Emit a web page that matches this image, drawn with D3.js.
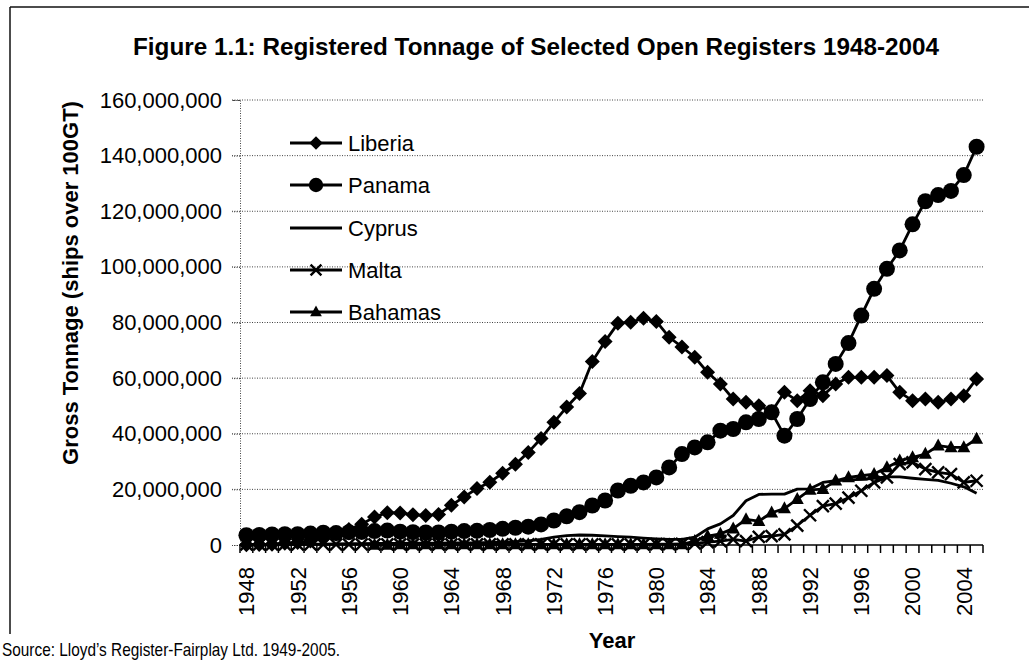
<!DOCTYPE html>
<html>
<head>
<meta charset="utf-8">
<script src="https://cdn.jsdelivr.net/npm/d3@7/dist/d3.min.js"></script>
<style>
  html, body { margin: 0; padding: 0; background: #fff; }
  svg { display: block; font-family: "Liberation Sans", Arial, sans-serif; }
</style>
</head>
<body>
<svg id="chart" width="1029" height="660"></svg>
<script>
// ---------- data (gross tonnage, millions GT) ----------
const years = [1948,1949,1950,1951,1952,1953,1954,1955,1956,1957,
               1958,1959,1960,1961,1962,1963,1964,1965,1966,1967,
               1968,1969,1970,1971,1972,1973,1974,1975,1976,1977,
               1978,1979,1980,1981,1982,1983,1984,1985,1986,1987,
               1988,1989,1990,1991,1992,1993,1994,1995,1996,1997,
               1998,1999,2000,2001,2002,2003,2004,2005];
const xTickLabels = ["1948","1952","1956","1960","1964","1968","1972","1976",
                     "1980","1984","1988","1992","1996","2000","2004"];
const yTicks = [0,20000000,40000000,60000000,80000000,100000000,120000000,140000000,160000000];

const liberia = [0.1,0.2,0.25,0.6,0.9,1.4,2.4,3.9,5.6,7.5,
                 10.1,11.6,11.5,10.9,10.6,11.0,14.3,17.3,20.3,22.6,
                 25.8,29.0,33.3,38.3,44.1,49.6,54.5,66.0,73.2,79.7,
                 80.1,81.5,80.4,74.7,71.2,67.5,62.1,57.9,52.5,51.3,
                 50.1,47.9,54.9,51.9,55.5,53.7,57.9,60.3,60.3,60.3,
                 60.9,54.9,51.9,52.5,51.3,52.5,53.7,59.7];
const panama  = [3.5,3.6,3.8,3.9,3.9,4.1,4.4,4.3,4.6,4.7,
                 5.0,5.2,4.8,4.6,4.5,4.5,4.8,5.0,5.1,5.4,
                 5.8,6.2,6.6,7.4,8.8,10.3,11.8,14.2,16.0,19.6,
                 21.3,22.5,24.3,27.9,32.7,35.1,36.9,41.1,41.7,44.1,
                 45.3,47.7,39.3,45.3,52.5,58.5,65.1,72.6,82.5,92.1,
                 99.3,105.9,115.3,123.6,125.8,127.3,133.0,143.2];
const cyprus  = [0.2,0.2,0.2,0.2,0.3,0.3,0.3,0.4,0.5,0.5,
                 0.6,0.6,0.6,0.7,0.7,0.7,0.8,0.8,0.8,0.9,
                 1.0,1.2,1.5,2.0,2.8,3.4,3.6,3.5,3.3,3.0,
                 2.8,2.5,2.2,2.0,2.0,2.8,5.8,7.6,10.6,15.9,
                 18.2,18.3,18.3,20.1,20.2,22.5,23.1,23.4,23.6,24.0,
                 24.5,24.5,24.0,23.6,23.2,22.2,20.9,18.6];
const malta   = [0.2,0.2,0.2,0.2,0.2,0.2,0.2,0.2,0.2,0.2,
                 0.2,0.2,0.2,0.2,0.2,0.2,0.2,0.2,0.2,0.2,
                 0.2,0.2,0.2,0.2,0.2,0.2,0.2,0.2,0.2,0.2,
                 0.2,0.2,0.3,0.3,0.4,0.6,1.0,1.4,2.0,1.4,
                 2.9,3.2,3.8,7.0,10.7,14.0,14.9,17.0,19.5,22.5,
                 24.3,29.1,29.7,27.3,26.1,25.5,22.5,23.1];
const bahamas = [null,null,null,null,null,null,null,null,null,null,
                 0.0,0.0,0.2,0.2,0.2,0.2,0.2,0.2,0.2,0.2,
                 0.2,0.2,0.2,0.2,0.2,0.2,0.2,0.2,0.2,0.2,
                 0.2,0.2,0.2,0.2,0.2,1.4,3.2,4.0,5.9,9.2,
                 8.6,11.6,13.1,16.5,19.8,20.1,23.1,24.3,24.9,25.5,
                 27.9,30.3,31.5,32.7,35.7,35.1,35.1,38.1];

const seriesNames = ["Liberia","Panama","Cyprus","Malta","Bahamas"];
const seriesValues = [liberia, panama, cyprus, malta, bahamas];
const seriesMarkers = ["diamond","circle","none","cross","triangle"];

// ---------- layout ----------
const svg = d3.select("#chart");
const plot = {left: 240, right: 983, top: 100, bottom: 545};

const x = d3.scaleBand().domain(years).range([plot.left, plot.right]).padding(0);
const y = d3.scaleLinear().domain([0, 160000000]).range([plot.bottom, plot.top]);
const cx = yr => x(yr) + x.bandwidth() / 2;

// frame (partial, as in scanned figure)
svg.append("line").attr("x1", 10).attr("y1", 7).attr("x2", 1029).attr("y2", 7)
   .attr("stroke", "#111").attr("stroke-width", 1.5);
svg.append("line").attr("x1", 10).attr("y1", 7).attr("x2", 10).attr("y2", 634)
   .attr("stroke", "#111").attr("stroke-width", 1.5);

// title
svg.append("text").attr("x", 536).attr("y", 55).attr("text-anchor", "middle")
   .attr("font-size", 24).attr("font-weight", "bold")
   .attr("textLength", 806).attr("lengthAdjust", "spacingAndGlyphs")
   .text("Figure 1.1: Registered Tonnage of Selected Open Registers 1948-2004");

// gridlines
svg.append("g").selectAll("line").data(yTicks.filter(d => d > 0)).join("line")
   .attr("x1", plot.left - 8).attr("x2", plot.right)
   .attr("y1", d => y(d)).attr("y2", d => y(d))
   .attr("stroke", "#444").attr("stroke-width", 1).attr("stroke-dasharray", "1,1.5");

// y axis (dotted)
const yAxis = d3.axisLeft(y).tickValues(yTicks).tickSize(8).tickPadding(10)
   .tickFormat(d3.format(","));
const gy = svg.append("g").attr("transform", `translate(${plot.left},0)`).call(yAxis);
gy.select(".domain").attr("stroke", "#444").attr("stroke-dasharray", "1,1.5");
gy.selectAll(".tick line").attr("stroke", "#444").attr("stroke-dasharray", "1,1.5");
gy.selectAll(".tick text").attr("font-size", 22).attr("fill", "#000")
   .attr("font-family", "'Liberation Sans', Arial, sans-serif");

// x axis: solid line, ticks between categories
const xb = svg.append("g");
xb.append("line").attr("x1", plot.left).attr("x2", plot.right)
   .attr("y1", plot.bottom).attr("y2", plot.bottom)
   .attr("stroke", "#000").attr("stroke-width", 1.5);
const boundaries = years.map(yr => x(yr)).concat([plot.right]);
xb.selectAll("line.tk").data(boundaries).join("line").attr("class", "tk")
   .attr("x1", d => d).attr("x2", d => d)
   .attr("y1", plot.bottom).attr("y2", plot.bottom + 8)
   .attr("stroke", "#000").attr("stroke-width", 1.5);
xb.selectAll("text").data(xTickLabels).join("text")
   .attr("transform", d => `translate(${cx(+d)},${plot.bottom + 22}) rotate(-90)`)
   .attr("text-anchor", "end").attr("dy", "0.36em")
   .attr("font-size", 22).text(d => d);

// axis titles
svg.append("text").attr("transform", "translate(78,283) rotate(-90)")
   .attr("text-anchor", "middle").attr("font-size", 22).attr("font-weight", "bold")
   .text("Gross Tonnage (ships over 100GT)");
svg.append("text").attr("x", 612).attr("y", 648).attr("text-anchor", "middle")
   .attr("font-size", 22).attr("font-weight", "bold").text("Year");

// source
svg.append("text").attr("x", 2).attr("y", 656).attr("font-size", 19)
   .attr("textLength", 338).attr("lengthAdjust", "spacingAndGlyphs")
   .text("Source: Lloyd\u2019s Register-Fairplay Ltd. 1949-2005.");

// ---------- markers ----------
function drawMarker(g, type, px, py, scale) {
  const s = scale || 1;
  if (type === "diamond") {
    const r = 7.5 * s;
    g.append("path").attr("d", `M${px},${py - r}L${px + r},${py}L${px},${py + r}L${px - r},${py}Z`)
     .attr("fill", "#000");
  } else if (type === "circle") {
    g.append("circle").attr("cx", px).attr("cy", py).attr("r", 8 * s).attr("fill", "#000");
  } else if (type === "triangle") {
    const h = 12 * s, w = 13 * s;
    g.append("path").attr("d", `M${px},${py - h * 0.6}L${px + w / 2},${py + h * 0.4}L${px - w / 2},${py + h * 0.4}Z`)
     .attr("fill", "#000");
  } else if (type === "cross") {
    const r = 6 * s;
    g.append("path").attr("d", `M${px - r},${py - r}L${px + r},${py + r}M${px - r},${py + r}L${px + r},${py - r}`)
     .attr("stroke", "#000").attr("stroke-width", 2.4).attr("fill", "none");
  }
}

const line = d3.line()
  .defined(d => d.v !== null)
  .x(d => cx(d.yr))
  .y(d => y(d.v * 1e6));

seriesNames.forEach((name, i) => {
  const pts = years.map((yr, j) => ({yr: yr, v: seriesValues[i][j]}));
  const g = svg.append("g").attr("class", "series-" + name);
  g.append("path").datum(pts).attr("d", line)
   .attr("fill", "none").attr("stroke", "#000").attr("stroke-width", 2.8)
   .attr("stroke-linejoin", "round");
  if (seriesMarkers[i] !== "none") {
    pts.filter(d => d.v !== null).forEach(d => drawMarker(g, seriesMarkers[i], cx(d.yr), y(d.v * 1e6)));
  }
});

// ---------- legend ----------
const legendY = [143, 185, 228, 270, 312];
const lg = svg.append("g");
seriesNames.forEach((name, i) => {
  const ly = legendY[i];
  lg.append("line").attr("x1", 290).attr("x2", 342).attr("y1", ly).attr("y2", ly)
    .attr("stroke", "#000").attr("stroke-width", 2.8);
  if (seriesMarkers[i] !== "none") drawMarker(lg, seriesMarkers[i], 316, ly, 0.9);
  lg.append("text").attr("x", 348).attr("y", ly).attr("dy", "0.36em")
    .attr("font-size", 22).text(name);
});
</script>
</body>
</html>
